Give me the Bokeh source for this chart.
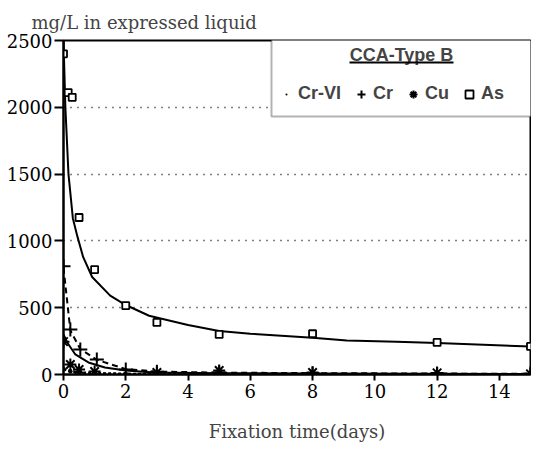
from bokeh.plotting import figure
from bokeh.models import (Range1d, FixedTicker, Legend, LegendItem, BoxAnnotation, Label)
from bokeh.embed import file_html
from bokeh.resources import INLINE

# ---- data ----
as_t = [0, 0.15, 0.28, 0.5, 1, 2, 3, 5, 8, 12, 15]
as_v = [2400, 2110, 2075, 1175, 785, 515, 390, 300, 305, 240, 210]
as_fit_t = [0, 0.03, 0.06, 0.16, 0.3, 0.45, 0.63, 0.92, 1.5, 2, 2.75, 4, 5, 6, 8, 9.1, 10.7, 12, 15]
as_fit_v = [2500, 2250, 2000, 1500, 1170, 1030, 880, 730, 590, 520, 440, 370, 325, 305, 275, 255, 245, 235, 210]

cr_t = [0, 0.22, 0.54, 1.07, 2, 3, 5, 8, 12, 15]
cr_v = [810, 336, 187, 112, 37, 20, 15, 10, 8, 5]
cr_fit_t = [0, 0.22, 0.54, 1.07, 2, 3, 5, 8, 12, 15]
cr_fit_v = [800, 330, 190, 110, 40, 22, 14, 10, 7, 5]

cu_t = [0, 0.22, 0.5, 1, 3, 5, 8, 12, 15]
cu_v = [246, 75, 37, 22, 15, 30, 15, 12, 5]
cu_fit_t = [0, 0.12, 0.38, 0.8, 1.33, 2, 2.9, 5, 8, 12, 15]
cu_fit_v = [300, 240, 150, 90, 52, 30, 15, 10, 8, 6, 4]

crvi_t = [0, 0.22, 0.5, 1, 2, 3, 5, 8, 12, 15]
crvi_v = [40, 25, 15, 10, 5, 3, 2, 2, 1, 1]

x_ticks = [0, 2, 4, 6, 8, 10, 12, 14]
y_ticks = [0, 500, 1000, 1500, 2000, 2500]

SERIF = "DejaVu Serif"
SANS = "Liberation Sans"

p = figure(width=531, height=444, output_backend="svg", toolbar_location=None,
           x_range=Range1d(0, 15), y_range=Range1d(0, 2500),
           min_border_left=63, min_border_right=1, min_border_top=40, min_border_bottom=69)

p.title.text = "mg/L in expressed liquid"
p.title.align = "left"
p.title.offset = -32
p.title.text_font = SERIF
p.title.text_font_style = "normal"
p.title.text_font_size = "18px"
p.title.standoff = 12
p.title.vertical_align = "top"
p.title.padding = 0

p.outline_line_color = "black"
p.outline_line_width = 2
p.xgrid.visible = False
p.ygrid.ticker = FixedTicker(ticks=y_ticks)
p.ygrid.grid_line_color = "black"
p.ygrid.grid_line_dash = "1 6"
p.ygrid.grid_line_width = 1.3

for ax in (p.xaxis[0], p.yaxis[0]):
    ax.axis_line_width = 2
    ax.major_tick_line_width = 2
    ax.minor_tick_line_color = None
    ax.major_tick_in = 0
    ax.major_label_text_font = SERIF
    ax.major_label_text_font_size = "18px"
    ax.major_label_text_color = "black"

p.xaxis.ticker = FixedTicker(ticks=x_ticks)
p.yaxis.ticker = FixedTicker(ticks=y_ticks)
p.xaxis.major_tick_out = 6
p.yaxis.major_tick_out = 9
p.xaxis.major_label_standoff = 3
p.yaxis.major_label_standoff = 2
p.xaxis.axis_label = "Fixation time(days)"
p.xaxis.axis_label_text_font = SERIF
p.xaxis.axis_label_text_font_style = "normal"
p.xaxis.axis_label_text_font_size = "18px"
p.xaxis.axis_label_standoff = 20

# lines
p.line(as_fit_t, as_fit_v, line_color="black", line_width=2)
p.line(cr_fit_t, cr_fit_v, line_color="black", line_width=2, line_dash="6 4")
p.line(cu_fit_t, cu_fit_v, line_color="black", line_width=2)
p.line(crvi_t, crvi_v, line_color="black", line_width=2.5, line_dash="3 2")

# markers
r_as = p.scatter(as_t, as_v, marker="square", size=7, fill_color="white",
                 line_color="black", line_width=1.8)
r_cr = p.scatter(cr_t, cr_v, marker="cross", size=14, line_color="black", line_width=2)
r_cu = p.scatter(cu_t, cu_v, marker="asterisk", size=12, line_color="black", line_width=2)
r_crvi = p.scatter(crvi_t, crvi_v, marker="dot", size=18, line_color="black", fill_color="black")

# legend box (decoration, screen units relative to the frame)
box = BoxAnnotation(left=208, right=470, bottom=258, top=337,
                    left_units="screen", right_units="screen",
                    bottom_units="screen", top_units="screen",
                    fill_color="white", fill_alpha=1, line_color="black", line_width=2)
p.add_layout(box)
p.add_layout(Label(x=338, y=320, x_units="screen", y_units="screen", text="CCA-Type B",
                   text_font=SANS, text_font_style="bold", text_font_size="18px",
                   text_align="center", text_baseline="middle"))
ul = BoxAnnotation(left=286, right=390, bottom=311, top=313,
                   left_units="screen", right_units="screen",
                   bottom_units="screen", top_units="screen",
                   fill_color="black", fill_alpha=1, line_color=None)
p.add_layout(ul)

legend = Legend(items=[LegendItem(label="Cr-VI", renderers=[r_crvi]),
                       LegendItem(label="Cr", renderers=[r_cr]),
                       LegendItem(label="Cu", renderers=[r_cu]),
                       LegendItem(label="As", renderers=[r_as])],
                orientation="horizontal", location=(213, 270),
                label_text_font=SANS, label_text_font_style="bold", label_text_font_size="18px",
                glyph_width=20, glyph_height=20, label_standoff=2, spacing=10,
                padding=4, margin=0, border_line_color=None, background_fill_alpha=0)
p.add_layout(legend)

open("out.html", "w").write(file_html(p, INLINE))
